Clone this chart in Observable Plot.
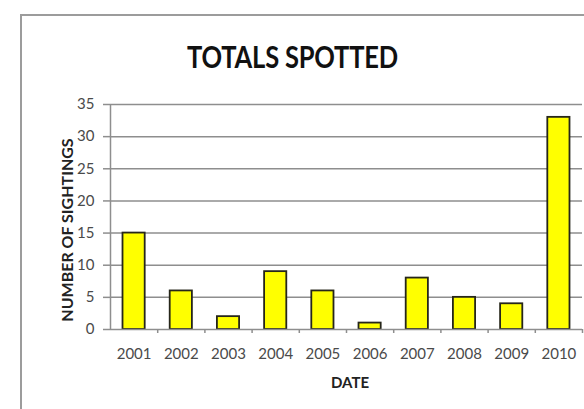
<!DOCTYPE html>
<html>
<head>
<meta charset="utf-8">
<script src="https://cdn.jsdelivr.net/npm/d3@7"></script>
<script src="https://cdn.jsdelivr.net/npm/@observablehq/plot@0.6"></script>
<style>
  html, body { margin: 0; padding: 0; background: #fff; }
  #wrap { position: relative; width: 584px; height: 409px; overflow: hidden; font-family: Lato, "Open Sans", sans-serif; }
  #frame { position: absolute; left: 20px; top: 14px; width: 700px; height: 500px;
           border-left: 2px solid #9c9c9c; border-top: 2px solid #9c9c9c; }
  #title { position: absolute; left: 292.5px; top: 56px; transform: translate(-50%, -50%) scale(1, 1.2);
           white-space: nowrap; font-weight: 700; font-size: 25.5px; color: #111; letter-spacing: -0.2px; }
  #ylab { position: absolute; left: 66px; top: 230px; transform: translate(-50%, -50%) rotate(-90deg);
          white-space: nowrap; font-weight: 700; font-size: 16px; color: #222; }
  #xlab { position: absolute; left: 350px; top: 382px; transform: translate(-50%, -50%);
          font-weight: 700; font-size: 15px; color: #222; }
  #chart { position: absolute; left: 0; top: 0; }
</style>
</head>
<body>
<div id="wrap">
  <div id="frame"></div>
  <div id="title">TOTALS SPOTTED</div>
  <div id="chart"></div>
  <div id="ylab">NUMBER OF SIGHTINGS</div>
  <div id="xlab">DATE</div>
</div>
<script>
// Sightings per year
const years = ["2001", "2002", "2003", "2004", "2005", "2006", "2007", "2008", "2009", "2010"];
const sightings = [15, 6, 2, 9, 6, 1, 8, 5, 4, 33];
const yTicks = [0, 5, 10, 15, 20, 25, 30, 35];

// Category slots are numbered 1..n on a linear x scale so that the
// small separator ticks can sit on the slot boundaries.
const rows = years.map((year, i) => ({ year, slot: i + 1, count: sightings[i] }));
const slots = rows.map(d => d.slot);
const boundaries = slots.map(s => s + 0.5);
const halfBar = 0.235;

const grey = "#8e8e8e";
const tickText = "#4a4a4a";

const chart = Plot.plot({
  width: 584,
  height: 409,
  marginTop: 104,
  marginBottom: 80,
  marginLeft: 110,
  marginRight: 2,
  style: { fontFamily: "Lato, 'Open Sans', sans-serif", background: "transparent" },
  x: { domain: [0.5, years.length + 0.5] },
  y: { domain: [0, 35] },
  marks: [
    Plot.gridY(yTicks.slice(1), { stroke: grey, strokeOpacity: 1, strokeWidth: 1.5 }),
    Plot.ruleX([0.5], { stroke: grey, strokeWidth: 1.5 }),
    Plot.axisY({ ticks: yTicks, tickSize: 7, tickPadding: 9, stroke: grey, strokeWidth: 1.5,
                 fill: tickText, fontSize: 15, label: null }),
    Plot.axisX({ ticks: boundaries, tickSize: 4, tickFormat: () => "", stroke: grey,
                 strokeWidth: 1.5, label: null }),
    Plot.axisX({ ticks: slots, tickSize: 0, tickPadding: 19, tickFormat: s => years[s - 1],
                 fill: tickText, fontSize: 15, label: null }),
    Plot.rectY(rows, { x1: d => d.slot - halfBar, x2: d => d.slot + halfBar, y: "count",
                       fill: "#ffff00", stroke: "#26261a", strokeWidth: 1.8 }),
    Plot.ruleY([0], { stroke: grey, strokeWidth: 1.5 })
  ]
});
document.getElementById("chart").appendChild(chart);
</script>
</body>
</html>
